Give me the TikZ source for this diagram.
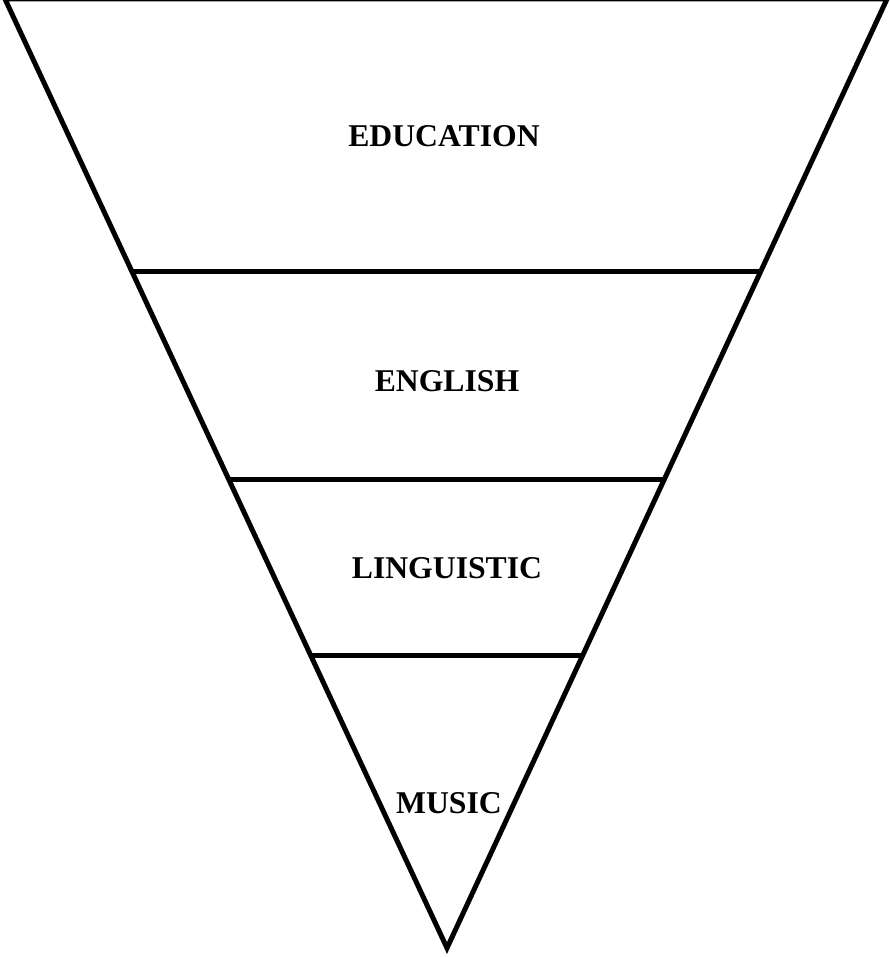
\documentclass[tikz,border=0pt]{standalone}
\usepackage{fontspec}
\setmainfont{Liberation Serif}
\usetikzlibrary{calc}
\begin{document}
\begin{tikzpicture}[x=1pt,y=-1pt,
  edge/.style={line width=5pt,line join=miter,black},
  lbl/.style={font=\fontsize{31.7}{36}\selectfont\bfseries,inner sep=0pt}]
\useasboundingbox (0,0) rectangle (890,957);
\clip (0,0) rectangle (890,957);
\coordinate (tl) at (5,-1);
\coordinate (tr) at (887,-1);
\coordinate (ap) at (447,948);
\draw[edge] (tl) -- (tr) -- (ap) -- cycle;
% dividing lines
\foreach \n/\y in {a/271.5,b/480,c/655}{
  \coordinate (\n l) at ($(tl)!{(\y+1)/949}!(ap)$);
  \coordinate (\n r) at ($(tr)!{(\y+1)/949}!(ap)$);
}
\draw[edge] (al) -- (ar);
\draw[edge] (bl) -- (br);
\draw[edge] (cl) -- (cr);
\node[lbl] (edu) at (444,136) {EDUCATION};
\node[lbl] (eng) at (447,381) {ENGLISH};
\node[lbl] (lin) at (447,568) {LINGUISTIC};
\node[lbl] (mus) at (449,803) {MUSIC};
\end{tikzpicture}
\end{document}
